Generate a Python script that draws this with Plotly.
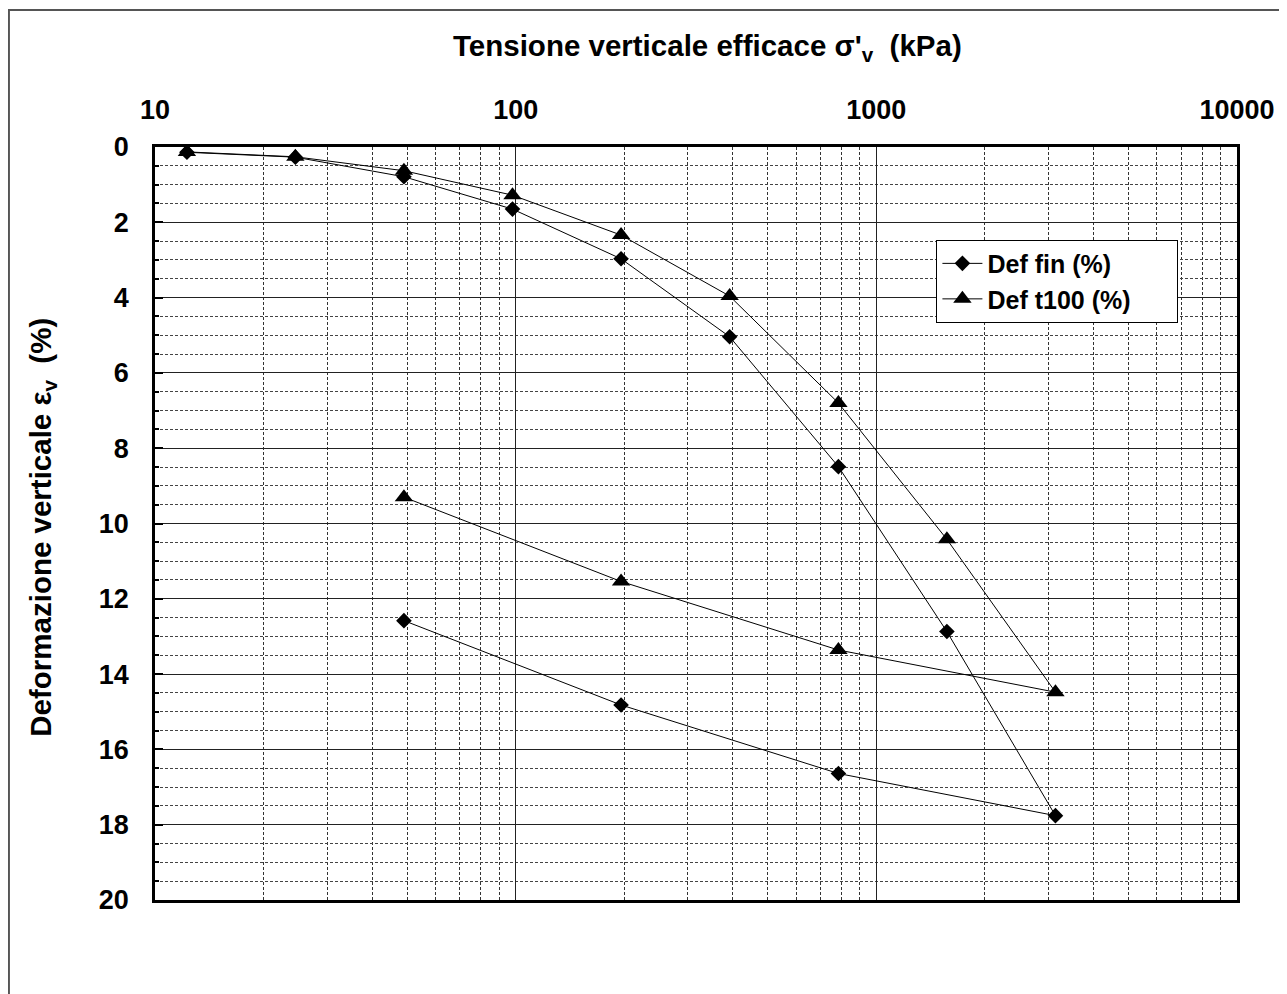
import plotly.graph_objects as go

# Data
pressure_kpa = [12.26, 24.5, 49, 98, 196, 392, 785, 1569, 3138, 785, 196, 49]
def_fin = [0.14, 0.27, 0.79, 1.65, 2.97, 5.04, 8.49, 12.87, 17.76, 16.64, 14.82, 12.58]
def_t100 = [0.13, 0.26, 0.63, 1.28, 2.34, 3.96, 6.80, 10.42, 14.48, 13.36, 11.54, 9.30]

x_major = [10, 100, 1000, 10000]
x_major_text = ["10", "100", "1000", "10000"]
x_minor = [m * d for d in (10, 100, 1000) for m in range(2, 10)]
y_ticks = [0, 2, 4, 6, 8, 10, 12, 14, 16, 18, 20]

FONT = "Liberation Sans, Arial, sans-serif"
PAD = "&nbsp;" * 6

fig = go.Figure()
fig.add_trace(go.Scatter(
    x=pressure_kpa, y=def_fin, mode="lines+markers",
    name="<b>Def fin (%)</b>" + PAD,
    line=dict(color="black", width=1),
    marker=dict(symbol="diamond", size=12, color="black"),
))
fig.add_trace(go.Scatter(
    x=pressure_kpa, y=def_t100, mode="lines+markers",
    name="<b>Def t100 (%)</b>" + PAD,
    line=dict(color="black", width=1),
    marker=dict(symbol="triangle-up", size=16, color="black"),
))

fig.update_layout(
    width=1279, height=986,
    margin=dict(l=147, r=45, t=139, b=94),
    paper_bgcolor="white", plot_bgcolor="white",
    font=dict(family=FONT, color="black"),
    showlegend=True,
    legend=dict(
        x=0.7222, y=0.877, xanchor="left", yanchor="top",
        bgcolor="white", bordercolor="black", borderwidth=1,
        font=dict(size=25, family=FONT, color="black"),
        itemwidth=40,
    ),
    xaxis=dict(
        type="log", side="top", range=[1, 4],
        tickvals=x_major, ticktext=["<b>%s</b>" % t for t in x_major_text],
        tickfont=dict(size=27, family=FONT, color="black"),
        ticks="", showgrid=True, gridcolor="#222", gridwidth=1,
        showline=True, linecolor="black", linewidth=2.5, mirror=True,
        minor=dict(tickvals=x_minor, showgrid=True, gridcolor="#333",
                   griddash="3px,2px", gridwidth=1, ticks=""),
        ticklabelstandoff=14,
        zeroline=False,
    ),
    yaxis=dict(
        range=[20, 0], tickvals=y_ticks,
        ticktext=["<b>%d</b>" % v for v in y_ticks],
        tickfont=dict(size=27, family=FONT, color="black"),
        ticks="inside", ticklen=8, tickcolor="black", tickwidth=1.5,
        showgrid=True, gridcolor="#222", gridwidth=1,
        showline=True, linecolor="black", linewidth=2.5, mirror=True,
        minor=dict(dtick=0.5, showgrid=True, gridcolor="#444",
                   griddash="3px,2px", gridwidth=1, ticks="inside",
                   ticklen=4, tickcolor="black"),
        ticklabelstandoff=18,
        zeroline=False,
    ),
    annotations=[
        dict(text="<b>Tensione verticale efficace σ'<sub>v</sub>  (kPa)</b>",
             x=0.5106, y=1.1315, xref="paper", yref="paper",
             xanchor="center", yanchor="middle", showarrow=False,
             font=dict(size=29.5, family=FONT, color="black")),
        dict(text="<b>Deformazione verticale ε<sub>v</sub>  (%)</b>",
             x=-0.104, y=0.495, xref="paper", yref="paper",
             xanchor="center", yanchor="middle", showarrow=False,
             textangle=-90,
             font=dict(size=29.5, family=FONT, color="black")),
    ],
    shapes=[
        dict(type="rect", xref="paper", yref="paper",
             x0=-0.1350, x1=1.05, y0=-0.14, y1=1.1819,
             line=dict(color="#555", width=2), layer="below"),
    ],
)

fig.write_html("out.html")
